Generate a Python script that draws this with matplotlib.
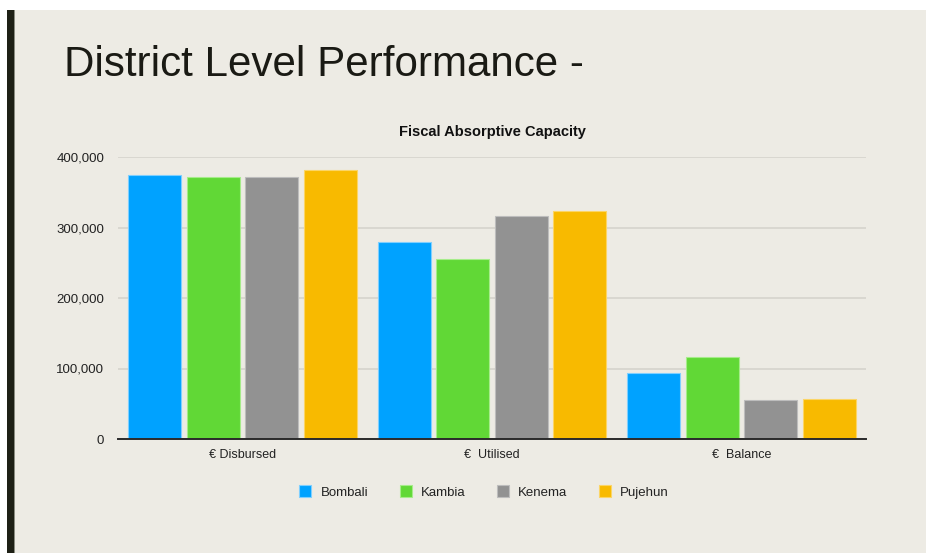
import matplotlib.pyplot as plt
import numpy as np
from matplotlib.patches import Rectangle
from matplotlib.ticker import FuncFormatter

# Fiscal absorptive capacity per district (EUR)
categories = ["€ Disbursed", "€  Utilised", "€  Balance"]
districts = ["Bombali", "Kambia", "Kenema", "Pujehun"]
bombali = [375000, 280000, 94000]
kambia = [372000, 256000, 116500]
kenema = [372000, 317000, 56000]
pujehun = [381000, 324000, 57000]
colors = ["#00A2FF", "#61D836", "#929292", "#F8BA00"]
edges = ["#7FCFFF", "#A6EC8A", "#BDBDBD", "#FBD566"]

bg = "#EDEBE4"
fig = plt.figure(figsize=(9.26, 5.53), dpi=100)
fig.patch.set_facecolor(bg)

# white strip along the top and dark bar down the left side
fig.patches.append(Rectangle((0, 1 - 10 / 553), 1, 10 / 553, transform=fig.transFigure,
                             facecolor="white", edgecolor="none"))
fig.patches.append(Rectangle((0, 0), 7 / 926, 1, transform=fig.transFigure,
                             facecolor="white", edgecolor="none"))
fig.patches.append(Rectangle((7 / 926, 0), 6.5 / 926, 1 - 10 / 553, transform=fig.transFigure,
                             facecolor="#1E2015", edgecolor="none"))
fig.patches.append(Rectangle((13.5 / 926, 0), 1.2 / 926, 1 - 10 / 553, transform=fig.transFigure,
                             facecolor="#8A8C80", edgecolor="none"))

fig.text(64 / 926, 1 - 76 / 553, "District Level Performance -", fontsize=30.3,
         family="Liberation Sans", color="#1A1A14", ha="left", va="baseline")

ax = fig.add_axes([118 / 926, 114 / 553, 748 / 926, 282 / 553])
ax.set_facecolor(bg)

series = [bombali, kambia, kenema, pujehun]
x = np.arange(len(categories))
slot = 0.2347
width = 0.2126
for i, (name, vals) in enumerate(zip(districts, series)):
    ax.bar(x + (i - 1.5) * slot, vals, width, color=colors[i], edgecolor=edges[i],
           linewidth=0.8, label=name, zorder=3)

ax.set_xlim(-0.5, 2.5)
ax.set_ylim(0, 400000)
ax.set_yticks([0, 100000, 200000, 300000, 400000])
ax.yaxis.set_major_formatter(FuncFormatter(lambda v, p: f"{int(v):,}"))
ax.set_xticks(x)
ax.set_xticklabels(categories)
ax.grid(axis="y", color="#D6D4CD", linewidth=1.2, zorder=0)
ax.set_axisbelow(True)
for s in ["top", "right", "left"]:
    ax.spines[s].set_visible(False)
ax.spines["bottom"].set_color("#2A2A2A")
ax.spines["bottom"].set_linewidth(1.4)
ax.spines["bottom"].set_zorder(4)
ax.tick_params(axis="both", length=0, labelsize=9.5, colors="#222222")
ax.tick_params(axis="y", pad=10)
ax.tick_params(axis="x", pad=7, labelsize=9)
for lbl in ax.get_xticklabels() + ax.get_yticklabels():
    lbl.set_family("Liberation Sans")

ax.set_title("Fiscal Absorptive Capacity", fontsize=10.5, fontweight="bold",
             family="Liberation Sans", pad=15, color="#111111")

leg = fig.legend(loc="center", bbox_to_anchor=(484 / 926, 1 - 492 / 553), ncol=4,
                 frameon=False, handlelength=0.91, handleheight=0.91,
                 handletextpad=0.68, columnspacing=2.4,
                 prop={"family": "Liberation Sans", "size": 9.5})
for t in leg.get_texts():
    t.set_color("#222222")

fig.savefig("out.png", dpi=100, facecolor=bg)
